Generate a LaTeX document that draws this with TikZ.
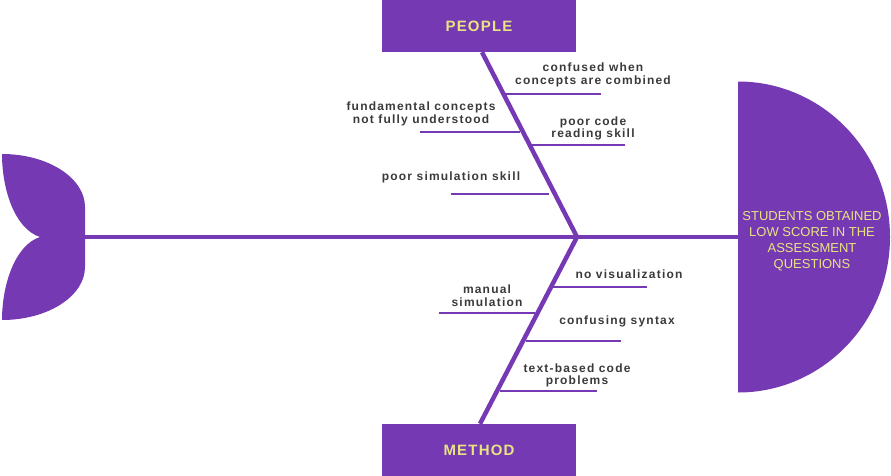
\documentclass[tikz,border=0pt]{standalone}
\usepackage{fontspec}
\setmainfont{Liberation Sans}
\newfontfamily\spacedfont[LetterSpace=10]{Liberation Sans}
\newfontfamily\catfont[LetterSpace=8]{Liberation Sans}
\usetikzlibrary{positioning,calc}

\definecolor{fishpurple}{RGB}{118,57,180}
\definecolor{fishyellow}{RGB}{232,228,128}
\definecolor{causegray}{RGB}{58,58,58}

\begin{document}
\begin{tikzpicture}[
    x=1pt, y=-1pt,
    catbox/.style={rectangle, fill=fishpurple, minimum width=194pt, minimum height=52pt, inner sep=0pt,
        text=fishyellow, font=\catfont\bfseries\fontsize{15}{17}\selectfont},
    cause/.style={align=center, inner sep=0pt, text=causegray,
        font=\spacedfont\bfseries\fontsize{12}{12.5}\selectfont},
    headtext/.style={align=center, inner sep=0pt, text=fishyellow,
        font=\fontsize{13}{16}\selectfont},
    spine/.style={draw=fishpurple, line width=4pt},
    bone/.style={draw=fishpurple, line width=4.5pt},
    subbone/.style={draw=fishpurple, line width=1.8pt}
]
    \useasboundingbox (0,0) rectangle (891,476);

    % tail
    \fill[fishpurple] (2,154) .. controls (48,154) and (85,178) .. (85,207)
        -- (85,267) .. controls (85,296) and (48,320) .. (2,320)
        .. controls (2,285) and (15,245) .. (40,237)
        .. controls (15,229) and (2,190) .. (2,154) -- cycle;
    \coordinate (tail) at (84,237);

    % head
    \coordinate (head) at (738,237);
    \begin{scope}
        \clip (738,0) rectangle (891,476);
        \fill[fishpurple] (head) ellipse [x radius=152, y radius=155.5];
    \end{scope}
    \node[headtext] (result) at (812,241) {STUDENTS OBTAINED\\LOW SCORE IN THE\\ASSESSMENT\\QUESTIONS};

    % categories
    \node[catbox] (people) at (479,26) {PEOPLE};
    \node[catbox] (method) at (479,450) {METHOD};
    \coordinate (joint) at (577,237);

    \draw[spine] (tail) -- (head);
    \draw[bone] ([xshift=3pt]people.south) -- (joint);
    \draw[bone] ([xshift=1pt]method.north) -- (joint);

    % people causes
    \coordinate (p1a) at (505,94);  \coordinate (p1b) at (601,94);
    \coordinate (p2a) at (420,132); \coordinate (p2b) at (520,132);
    \coordinate (p3a) at (531,145); \coordinate (p3b) at (625,145);
    \coordinate (p4a) at (451,194); \coordinate (p4b) at (549,194);
    \draw[subbone] (p1a) -- (p1b);
    \draw[subbone] (p2a) -- (p2b);
    \draw[subbone] (p3a) -- (p3b);
    \draw[subbone] (p4a) -- (p4b);
    \node[cause] (conf) at (593,75) {confused when\\concepts are combined};
    \node[cause] (fund) at (421,114) {fundamental concepts\\not fully understood};
    \node[cause] (read) at (593,128.5) {poor code\\reading skill};
    \node[cause] (simskill) at (451,177.5) {poor simulation skill};

    % method causes
    \coordinate (m1a) at (553,287); \coordinate (m1b) at (647,287);
    \coordinate (m2a) at (439,313); \coordinate (m2b) at (535,313);
    \coordinate (m3a) at (526,341); \coordinate (m3b) at (621,341);
    \coordinate (m4a) at (500,391); \coordinate (m4b) at (597,391);
    \draw[subbone] (m1a) -- (m1b);
    \draw[subbone] (m2a) -- (m2b);
    \draw[subbone] (m3a) -- (m3b);
    \draw[subbone] (m4a) -- (m4b);
    \node[cause] (novis) at (629,274.5) {no visualization};
    \node[cause] (manual) at (487,295.5) {manual\\simulation};
    \node[cause] (syntax) at (617,321.5) {confusing syntax};
    \node[cause] (textcode) at (577,375.5) {text-based code\\problems};
\end{tikzpicture}
\end{document}
